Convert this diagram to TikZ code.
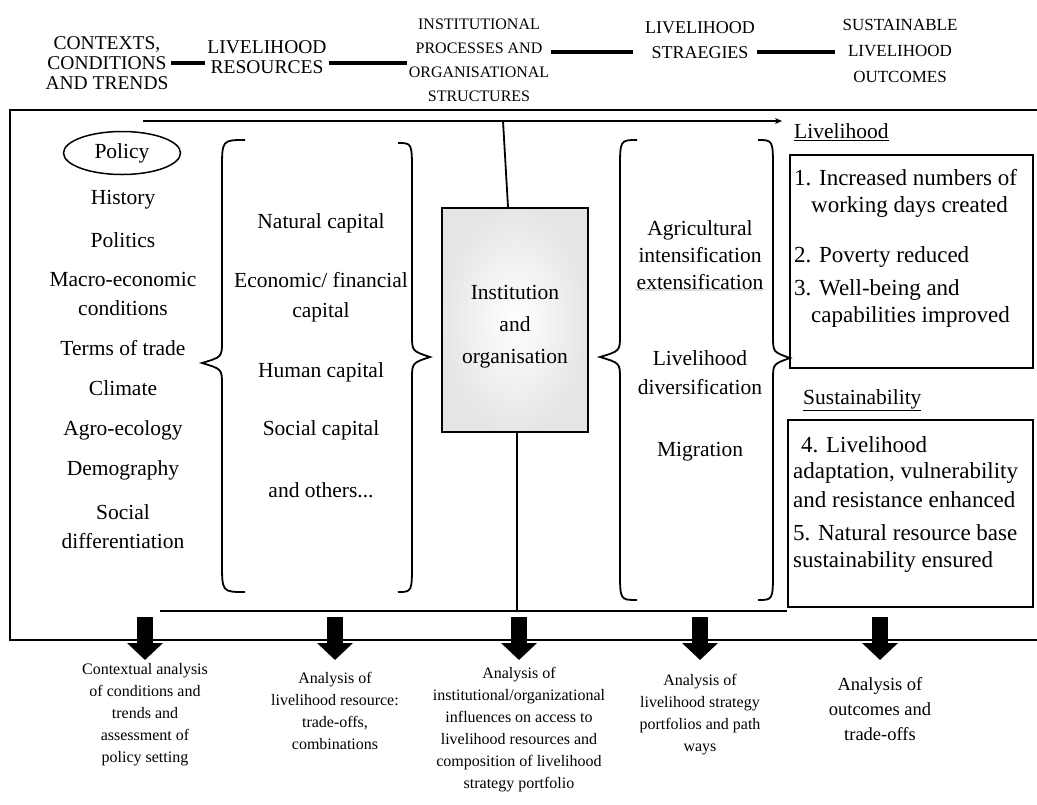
\documentclass[tikz,border=0pt]{standalone}
\usepackage{fontspec}
\setmainfont{Liberation Serif}
\usetikzlibrary{arrows.meta, positioning, shapes.geometric, decorations.pathmorphing}

% curly bracket: vertical x, end x, point x, top y, point y, bottom y
\newcommand{\capbrace}[6]{%
  \draw[bracestroke] (#2,#4) .. controls (#1,#4) .. (#1,{#4+30}) -- (#1,{#5-22})
    .. controls (#1,{#5-6}) .. (#3,#5) .. controls (#1,{#5+6}) .. (#1,{#5+22})
    -- (#1,{#6-30}) .. controls (#1,#6) .. (#2,#6);}

\begin{document}
\begin{tikzpicture}[x=1pt, y=-1pt,
  head/.style={font=\fontsize{19.5}{20}\selectfont, align=center, inner sep=2pt},
  bar/.style={line width=4.5pt},
  item/.style={font=\fontsize{21.5}{30}\selectfont, align=center, inner sep=1pt},
  outtext/.style={font=\fontsize{23}{26}\selectfont, anchor=west, inner sep=1pt},
  outbox/.style={draw, line width=2.2pt},
  anl/.style={font=\fontsize{16}{22}\selectfont, align=center, anchor=north, inner sep=1pt},
  blockarrow/.style={line width=16pt, -{Triangle[width=35pt, length=17pt]}},
  bracestroke/.style={line width=1.8pt},
  thin/.style={line width=1.8pt}
]
\useasboundingbox (0,0) rectangle (1037,804);

% column heads
\node[head] (hctx) at (107,63) {CONTEXTS,\\CONDITIONS\\AND TRENDS};
\node[head] (hres) at (267,57) {LIVELIHOOD\\RESOURCES};
\node[head, font=\fontsize{16}{24}\selectfont] (hinst) at (479,60) {INSTITUTIONAL\\PROCESSES AND\\ORGANISATIONAL\\STRUCTURES};
\node[head, font=\fontsize{18}{25.5}\selectfont] (hstr) at (700,40) {LIVELIHOOD\\STRAEGIES};
\node[head, font=\fontsize{17}{26}\selectfont] (hout) at (900,51) {SUSTAINABLE\\LIVELIHOOD\\OUTCOMES};
\draw[bar] (hctx.east |- 0,63) -- (hres.west |- 0,63);
\draw[bar] (hres.east |- 0,63) -- (hinst.west |- 0,63);
\draw[bar, shorten >=10pt] (hinst.east |- 0,52) -- (hstr.west |- 0,52);
\draw[bar, shorten >=5pt] (hstr.east |- 0,52) -- (hout.west |- 0,52);

% frame
\draw[line width=1.5pt] (1037,110) -- (10,110) -- (10,640) -- (1037,640);

% contexts
\node[draw, ellipse, line width=1.5pt, minimum width=117pt, minimum height=43pt, item] (policy) at (122,153) {Policy};
\foreach \y/\t [count=\i] in {200/History, 240/Politics, 294/{Macro-economic\\conditions}, 348/{Terms of trade}, 388/Climate, 430/Agro-ecology, 470/Demography, 527/{Social\\differentiation}}
  \node[item, font=\fontsize{21.5}{29}\selectfont] (ctx\i) at (123,\y) {\t};

% resources
\capbrace{222}{245}{202}{140}{363}{592}
\capbrace{412}{398}{430}{143}{357}{592}
\foreach \y/\t [count=\i] in {223/{Natural capital}, 297/{Economic/ financial\\capital}, 372/{Human capital}, 430/{Social capital}, 490/{and others...}}
  \node[item] (res\i) at (321,\y) {\t};

% institutions
\node[draw, line width=2.4pt, minimum width=146pt, minimum height=224pt, inner color=white, outer color=gray!20] (inst) at (515,320) {};
\node[item, font=\fontsize{21.5}{32}\selectfont] (instlab) at (515,327) {Institution\\and\\organisation};

% strategies
\capbrace{620}{637}{600}{140}{357}{600}
\capbrace{773}{758}{790}{140}{358}{600}
\node[item, font=\fontsize{21.5}{27}\selectfont] (agr) at (700,241.5) {Agricultural\\intensification};
\node[item] (ext) at (700,282) {extensification};
\draw[gray!70, decorate, decoration={snake, amplitude=0.8pt, segment length=3pt}] ([yshift=1pt]ext.south west) -- ([yshift=1pt]ext.south east);
\node[item, font=\fontsize{21.5}{29}\selectfont] (div) at (700,372.5) {Livelihood\\diversification};
\node[item] (mig) at (700,452) {Migration};

% outcomes
\node[outtext, font=\fontsize{21.5}{24}\selectfont] (livh) at (793,132) {\underline{Livelihood}};
\node[outbox, minimum width=243pt, minimum height=213pt] (liv) at (911.5,261.5) {};
\foreach \x/\y/\t [count=\i] in {793/178/{1. Increased numbers of}, 810/207/{working days created}, 793/257/{2. Poverty reduced}, 793/290/{3. Well-being and}, 810/317/{capabilities improved}}
  \node[outtext] (lv\i) at (\x,\y) {\t};
\node[outtext, font=\fontsize{21.5}{24}\selectfont] (sush) at (802,400) {\underline{Sustainability}};
\node[outbox, minimum width=245pt, minimum height=187pt] (sus) at (910.5,513.5) {};
\foreach \x/\y/\t [count=\i] in {800/445/{4. Livelihood}, 792/473/{adaptation, vulnerability}, 792/500/{and resistance enhanced}, 792/533/{5. Natural resource base}, 792/562/{sustainability ensured}}
  \node[outtext] (sv\i) at (\x,\y) {\t};

% feedback and base lines
\coordinate (feedL) at (143,121);
\coordinate (feedR) at (782,121);
\coordinate (feedT) at (503,121);
\coordinate (baseL) at (160,611);
\draw[thin, -{Stealth[length=7pt, width=6pt]}] (feedL) -- (feedR);
\draw[thin] (feedT) -- ([xshift=-7pt]inst.north);
\draw[thin] ([xshift=2pt]inst.south) -- ([xshift=2pt]inst.south |- baseL);
\draw[thin] (baseL) -- (sus.west |- baseL);

% analyses
\foreach \x/\y/\t [count=\i] in {145/662/{Contextual analysis\\of conditions and\\trends and\\assessment of\\policy setting}, 335/671/{Analysis of\\livelihood resource:\\trade-offs,\\combinations}, 519/666/{Analysis of\\institutional/organizational\\influences on access to\\livelihood resources and\\composition of livelihood\\strategy portfolio}, 700/673/{Analysis of\\livelihood strategy\\portfolios and path\\ways}}
  \node[anl] (anl\i) at (\x,\y) {\t};
\node[anl, font=\fontsize{18.5}{25}\selectfont] (anl5) at (880,676) {Analysis of\\outcomes and\\trade-offs};
\foreach \x [count=\i] in {145,335,519,700,880} {
  \coordinate (a\i) at (\x,617);
  \coordinate (b\i) at (\x,660);
  \draw[blockarrow] (a\i) -- (b\i);
}
\end{tikzpicture}
\end{document}
